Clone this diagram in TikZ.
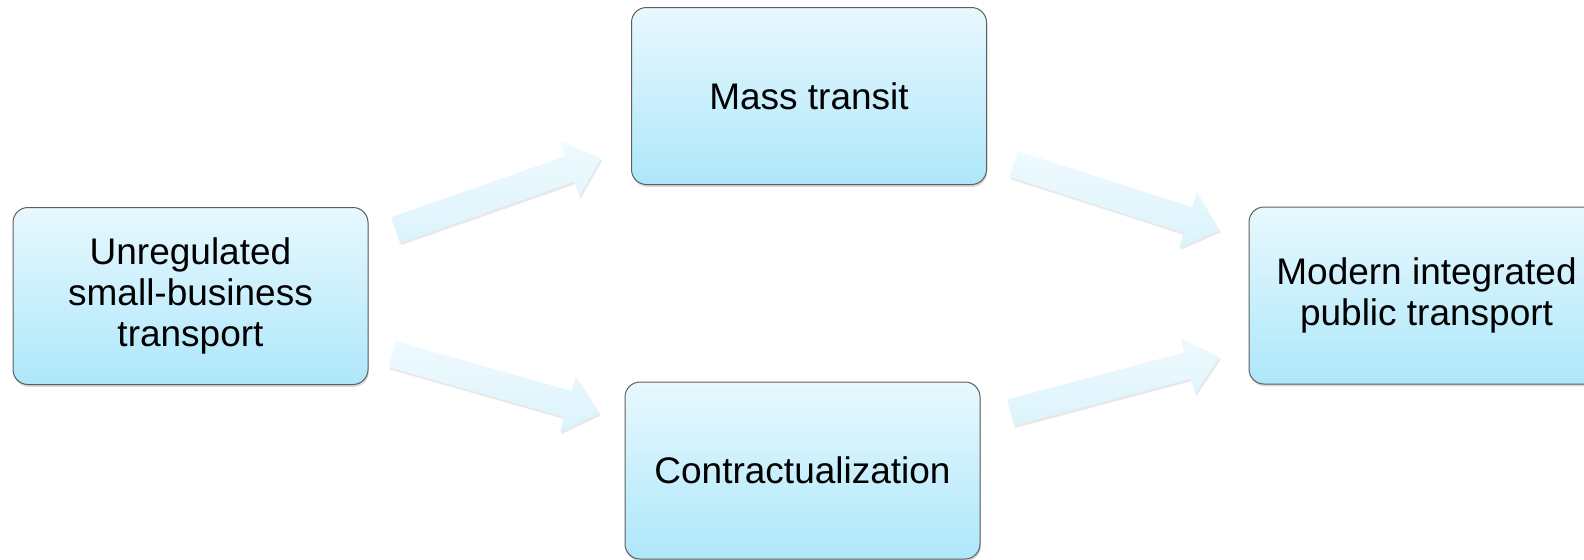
\documentclass[tikz,border=0pt]{standalone}
\usepackage{fontspec}
\setmainfont{Liberation Sans}
\usetikzlibrary{calc,shadows}
\definecolor{boxtop}{HTML}{E8F8FE}
\definecolor{boxbot}{HTML}{ADE7FA}
\definecolor{boxline}{HTML}{5E5E5E}
\definecolor{arrtop}{HTML}{EEFAFE}
\definecolor{arrbot}{HTML}{DCF3FC}
\tikzset{
  stage/.style={rectangle, rounded corners=7.5pt, draw=boxline, line width=0.5pt,
    top color=boxtop, bottom color=boxbot, minimum width=177.5pt, minimum height=88.5pt,
    align=center, font=\fontsize{18.5}{20.5}\selectfont, inner sep=0pt,
    drop shadow={shadow xshift=0.4pt, shadow yshift=-1.2pt, opacity=0.3}},
  flowarrow/.style={top color=arrtop, bottom color=arrbot,
    drop shadow={shadow xshift=0.6pt, shadow yshift=-1.2pt, opacity=0.18}},
}
\newcommand\blockarrow[2]{%
  \coordinate (#1h) at ($(#2)!16.5pt!(#1)$);
  \path[flowarrow] ($(#1)!6.75pt!90:(#2)$) -- ($(#1h)!6.75pt!90:(#2)$)
    -- ($(#1h)!14.5pt!90:(#2)$) -- (#2) -- ($(#1h)!14.5pt!-90:(#2)$)
    -- ($(#1h)!6.75pt!-90:(#2)$) -- ($(#1)!6.75pt!-90:(#2)$) -- cycle;
}
\begin{document}
\begin{tikzpicture}[x=0.5pt,y=-0.5pt]
\useasboundingbox (0,0) rectangle (1584,559);
\node[stage] (L) at (190.5,296) {Unregulated\\small-business\\transport};
\node[stage] (M) at (809,96) {Mass transit};
\node[stage] (C) at (802.5,470.5) {Contractualization};
\node[stage] (R) at (1426.5,295.5) {Modern integrated\\public transport};
% arrow end points
\coordinate (a1s) at ($(L.east)+(27,-66)$);
\coordinate (a1e) at ($(M.west)+(-30,62)$);
\coordinate (a2s) at ($(L.east)+(23.5,58)$);
\coordinate (a2e) at ($(C.west)+(-25,-57.5)$);
\coordinate (a3s) at ($(M.east)+(26.5,68)$);
\coordinate (a3e) at ($(R.west)+(-29,-65.5)$);
\coordinate (a4s) at ($(C.east)+(30,-58)$);
\coordinate (a4e) at ($(R.west)+(-29,61.5)$);
\blockarrow{a1s}{a1e}
\blockarrow{a2s}{a2e}
\blockarrow{a3s}{a3e}
\blockarrow{a4s}{a4e}
\end{tikzpicture}
\end{document}
